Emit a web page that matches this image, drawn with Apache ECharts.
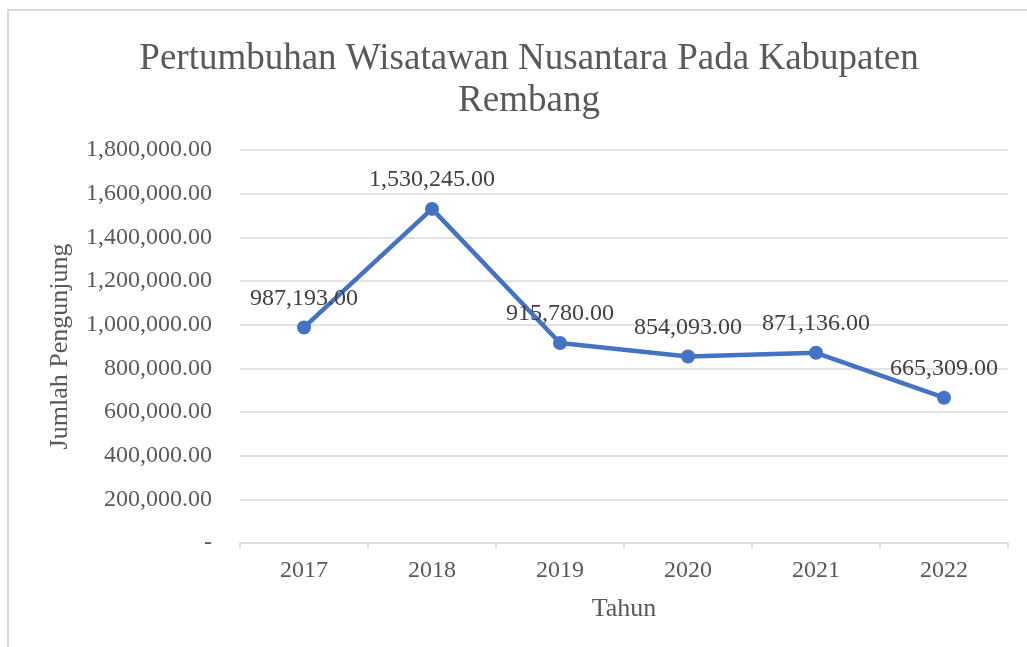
<!DOCTYPE html>
<html>
<head>
<meta charset="utf-8">
<script src="https://cdn.jsdelivr.net/npm/echarts@6/dist/echarts.min.js"></script>
<style>
  html, body { margin: 0; padding: 0; background: #fff; }
  #chart { width: 1027px; height: 647px; }
</style>
</head>
<body>
<div id="chart"></div>
<script>
const years = ["2017", "2018", "2019", "2020", "2021", "2022"];
const visitors = [987193, 1530245, 915780, 854093, 871136, 665309];
const yTicks = [0, 200000, 400000, 600000, 800000, 1000000, 1200000, 1400000, 1600000, 1800000];

const textColor = "#595959";
const serif = "'Liberation Serif', 'Times New Roman', serif";

function formatNumber(value) {
  if (value === 0) {
    return "-";
  }
  return Number(value).toLocaleString("en-US", { minimumFractionDigits: 2, maximumFractionDigits: 2 });
}

const chart = echarts.init(document.getElementById("chart"));

chart.setOption({
  backgroundColor: "#fff",
  animation: false,
  graphic: [
    {
      type: "rect",
      shape: { x: 8, y: 10, width: 1100, height: 700 },
      style: { fill: "none", stroke: "#d9d9d9", lineWidth: 2 },
      silent: true,
    },
  ],
  title: {
    text: "Pertumbuhan Wisatawan Nusantara Pada Kabupaten\nRembang",
    left: 524,
    top: 33,
    textAlign: "center",
    textStyle: {
      fontFamily: serif,
      fontSize: 37,
      fontWeight: "normal",
      color: textColor,
      lineHeight: 42,
    },
  },
  grid: {
    left: 240,
    right: 19,
    top: 150,
    bottom: 104,
  },
  xAxis: {
    type: "category",
    data: years,
    boundaryGap: true,
    name: "Tahun",
    nameLocation: "middle",
    nameGap: 53,
    nameTextStyle: { fontFamily: serif, fontSize: 26, color: textColor },
    axisLine: { lineStyle: { color: "#d9d9d9", width: 1.5 } },
    axisTick: { show: true, length: 6, lineStyle: { color: "#d9d9d9", width: 1.5 } },
    axisLabel: { fontFamily: serif, fontSize: 24, color: textColor, margin: 16 },
  },
  yAxis: {
    type: "value",
    min: yTicks[0],
    max: yTicks[yTicks.length - 1],
    interval: 200000,
    name: "Jumlah Pengunjung",
    nameLocation: "middle",
    nameGap: 167,
    nameTextStyle: { fontFamily: serif, fontSize: 26, color: textColor },
    axisLine: { show: false },
    axisTick: { show: false },
    axisLabel: {
      fontFamily: serif,
      fontSize: 24,
      color: textColor,
      margin: 28,
      formatter: (value) => formatNumber(value),
    },
    splitLine: { lineStyle: { color: "#d9d9d9", width: 1.5 } },
  },
  series: [
    {
      type: "line",
      data: visitors,
      symbol: "circle",
      symbolSize: 14,
      itemStyle: { color: "#4472C4" },
      lineStyle: { color: "#4472C4", width: 4.5 },
      label: {
        show: true,
        position: "top",
        distance: 10,
        fontFamily: serif,
        fontSize: 24,
        color: "#404040",
        formatter: (params) => formatNumber(params.value),
      },
    },
  ],
});
</script>
</body>
</html>
